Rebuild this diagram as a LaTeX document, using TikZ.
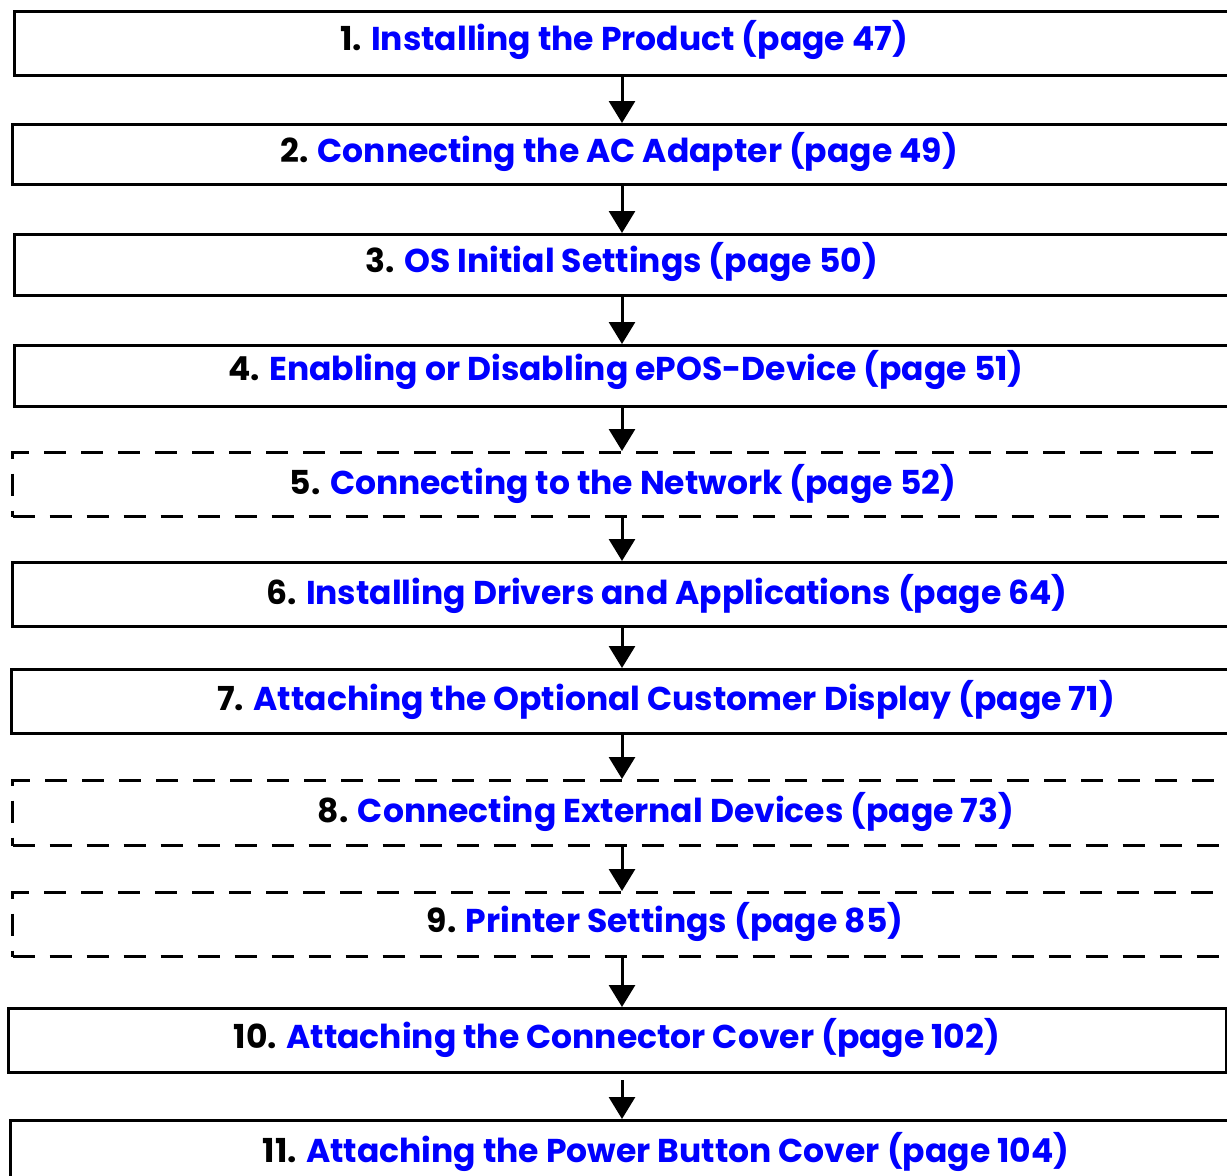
\documentclass[tikz,border=0pt]{standalone}
\usepackage{fontspec}
\setmainfont{Poppins}
\usetikzlibrary{arrows.meta}
\definecolor{linkblue}{RGB}{0,0,255}
\tikzset{
  box/.style={draw=black, line width=3pt, rectangle, inner sep=0pt, anchor=north west},
  dbox/.style={box, dash pattern=on 22pt off 15pt},
  lbl/.style={anchor=base, inner sep=0pt, font=\fontsize{33}{33}\selectfont\bfseries, text=linkblue},
  arr/.style={line width=3pt, -{Triangle[length=22pt,width=26pt]}},
}
\newcommand{\mkbox}[6]{% style, name, left, top, bottom, right
  \node[#1, minimum width=#6pt-#3pt, minimum height=#5pt-#4pt] (#2) at (#3,#4) {};}
\begin{document}
\begin{tikzpicture}[x=1pt,y=-1pt]
\useasboundingbox (0,0) rectangle (1227,1176);
\clip (0,0) rectangle (1227,1176);
\fill[white] (0,0) rectangle (1227,1176);
\mkbox{box}{b1}{13}{10}{74}{1245}
\mkbox{box}{b2}{11}{123}{183}{1245}
\mkbox{box}{b3}{13}{233}{294}{1245}
\mkbox{box}{b4}{13}{344}{405}{1245}
\mkbox{dbox}{b5}{11}{451}{515}{1245}
\mkbox{box}{b6}{11}{561}{625}{1245}
\mkbox{box}{b7}{10}{668}{732}{1245}
\mkbox{dbox}{b8}{11}{779}{844}{1245}
\mkbox{dbox}{b9}{11}{891}{955}{1245}
\mkbox{box}{b10}{7}{1007}{1071}{1225}
\mkbox{box}{b11}{9}{1119}{1200}{1245}

\node[lbl] (t1) at (624,50) {\textcolor{black}{1.} Installing the Product (page 47)};
\node[lbl] (t2) at (619,162) {\textcolor{black}{2.} Connecting the AC Adapter (page 49)};
\node[lbl] (t3) at (622,272) {\textcolor{black}{3.} OS Initial Settings (page 50)};
\node[lbl] (t4) at (626,380) {\textcolor{black}{4.} Enabling or Disabling ePOS-Device (page 51)};
\node[lbl] (t5) at (623,494) {\textcolor{black}{5.} Connecting to the Network (page 52)};
\node[lbl] (t6) at (667,604) {\textcolor{black}{6.} Installing Drivers and Applications (page 64)};
\node[lbl] (t7) at (666,710) {\textcolor{black}{7.} Attaching the Optional Customer Display (page 71)};
\node[lbl] (t8) at (666,822) {\textcolor{black}{8.} Connecting External Devices (page 73)};
\node[lbl] (t9) at (665,932) {\textcolor{black}{9.} Printer Settings (page 85)};
\node[lbl] (t10) at (617,1048) {\textcolor{black}{10.} Attaching the Connector Cover (page 102)};
\node[lbl] (t11) at (666,1162) {\textcolor{black}{11.} Attaching the Power Button Cover (page 104)};

\coordinate (ax) at (622,0);
\draw[arr] (b1.south -| ax) -- (b2.north -| ax);
\draw[arr] (b2.south -| ax) -- (b3.north -| ax);
\draw[arr] (b3.south -| ax) -- (b4.north -| ax);
\draw[arr] (b4.south -| ax) -- (b5.north -| ax);
\draw[arr] (b5.south -| ax) -- (b6.north -| ax);
\draw[arr] (b6.south -| ax) -- (b7.north -| ax);
\draw[arr] (b7.south -| ax) -- (b8.north -| ax);
\draw[arr] (b8.south -| ax) -- (b9.north -| ax);
\draw[arr] (b9.south -| ax) -- (b10.north -| ax);
\draw[arr] ([yshift=-6pt]b10.south -| ax) -- (b11.north -| ax);
\end{tikzpicture}
\end{document}
